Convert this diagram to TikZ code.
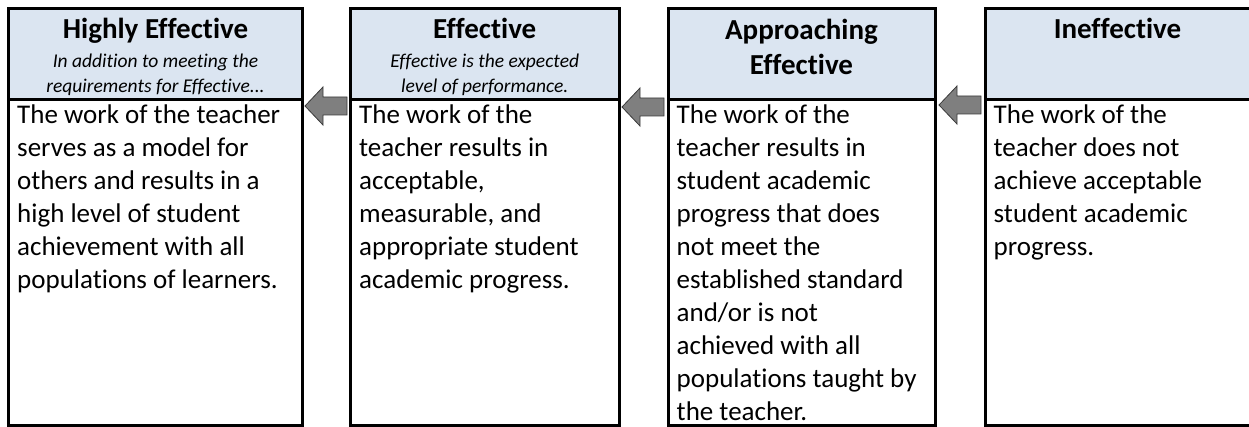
\documentclass[tikz,border=0pt]{standalone}
\usepackage{fontspec}
\setmainfont{Carlito}[Ligatures=CommonOff]
\definecolor{hdrblue}{HTML}{DBE5F1}
\definecolor{arrowgray}{HTML}{7F7F7F}
\definecolor{arrowedge}{HTML}{3A3A3A}
\tikzset{
  boxline/.style={draw=black, line width=3pt, line join=miter},
  divline/.style={draw=black, line width=2.4pt},
  hdrfill/.style={fill=hdrblue},
  titletext/.style={font=\bfseries\fontsize{29}{35.4}\selectfont, align=center, inner sep=0pt},
  subtext/.style={font=\itshape\fontsize{19.5}{25.5}\selectfont, align=center, inner sep=0pt},
  bodytext/.style={font=\fontsize{27}{33}\selectfont, align=left, inner sep=0pt},
  blockarrow/.style={fill=arrowgray, draw=arrowedge, line width=0.8pt, line join=miter}
}
\begin{document}
\begin{tikzpicture}[x=1pt, y=-1pt]
\useasboundingbox (0,0) rectangle (1249,427);
% column edges
\coordinate (c1l) at (8.5,8.5);   \coordinate (c1r) at (302.5,425.5);
\coordinate (c2l) at (350.5,8.5); \coordinate (c2r) at (619,425.5);
\coordinate (c3l) at (668,8.5);   \coordinate (c3r) at (935,425.5);
\coordinate (c4l) at (985,8.5);   \coordinate (c4r) at (1250.5,425.5);
% header fills
\foreach \l/\r in {c1l/c1r, c2l/c2r, c3l/c3r, c4l/c4r}{
  \path[hdrfill] (\l) rectangle (\r |- 0,99.5);
  \draw[divline] (\l |- 0,99.5) -- (\r |- 0,99.5);
  \draw[boxline] (\l) rectangle (\r);
}
% titles
\node[titletext, anchor=base] (t1) at (155.5,39) {Highly Effective};
\node[titletext, anchor=base] (t2) at (484.75,39) {Effective};
\node[titletext, anchor=north] (t3) at (801.5,17) {\rule{0pt}{22pt}Approaching\\Effective};
\node[titletext, anchor=base] (t4) at (1117.5,39) {Ineffective};
% subtitles
\node[subtext, anchor=north] (s1) at (155.5,51) {\rule{0pt}{16pt}In addition to meeting the\\requirements for Effective...};
\node[subtext, anchor=north] (s2) at (484.75,51) {\rule{0pt}{16pt}Effective is the expected\\level of performance.};
% bodies
\node[bodytext, anchor=north west] (b1) at (17,103) {\rule{0pt}{20pt}The work of the teacher\\serves as a model for\\others and results in a\\high level of student\\achievement with all\\populations of learners.};
\node[bodytext, anchor=north west] (b2) at (359,103) {\rule{0pt}{20pt}The work of the\\teacher results in\\acceptable,\\measurable, and\\appropriate student\\academic progress.};
\node[bodytext, anchor=north west] (b3) at (676.5,103) {\rule{0pt}{20pt}The work of the\\teacher results in\\student academic\\progress that does\\not meet the\\established standard\\and/or is not\\achieved with all\\populations taught by\\the teacher.};
\node[bodytext, anchor=north west] (b4) at (993.5,103) {\rule{0pt}{20pt}The work of the\\teacher does not\\achieve acceptable\\student academic\\progress.};
% block arrows
\coordinate (tipA) at (305,106);
\coordinate (tipB) at (622,107);
\coordinate (tipC) at (939,105);
\foreach \t in {tipA, tipB, tipC}{
  \draw[blockarrow] (\t) -- ++(18,-19) -- ++(0,10) -- ++(24,0) -- ++(0,18) -- ++(-24,0) -- ++(0,10) -- cycle;
}
\end{tikzpicture}
\end{document}
